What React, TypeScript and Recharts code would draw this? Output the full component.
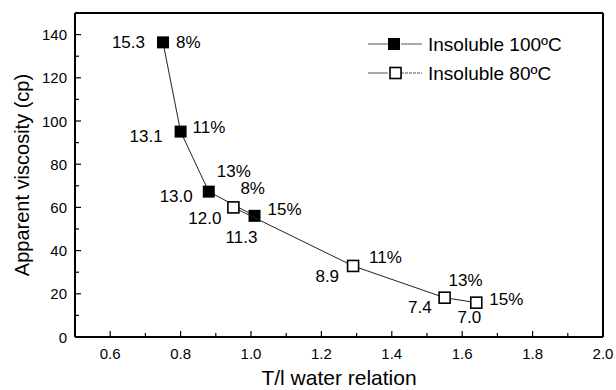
import React from "react";
import {
  ScatterChart,
  Scatter,
  XAxis,
  YAxis,
  Legend,
  ReferenceLine,
} from "recharts";

// T/I water relation vs apparent viscosity
const hotX = [0.75, 0.8, 0.88, 1.01];
const hotY = [136.4, 95.1, 67.3, 56.1];
const hotNum = ["15.3", "13.1", "13.0", "11.3"];
const hotPct = ["8%", "11%", "13%", "15%"];

const coldX = [0.95, 1.29, 1.55, 1.64];
const coldY = [60.0, 32.9, 18.2, 15.9];
const coldNum = ["12.0", "8.9", "7.4", "7.0"];
const coldPct = ["8%", "11%", "13%", "15%"];

const xMajor = [0.6, 0.8, 1.0, 1.2, 1.4, 1.6, 1.8, 2.0];
const xMinor = [0.5, 0.7, 0.9, 1.1, 1.3, 1.5, 1.7, 1.9];
const yMajor = [0, 20, 40, 60, 80, 100, 120, 140];
const yMinor = [10, 30, 50, 70, 90, 110, 130];

const seriesNames = ["Insoluble 100ºC", "Insoluble 80ºC"];

// label placement: [dx, dy, anchor] relative to the marker
type Off = [number, number, "start" | "middle" | "end"];
const hotNumOff: Off[] = [[-18, 0, "end"], [-18, 5, "end"], [-16, 5, "end"], [-13, 22, "middle"]];
const hotPctOff: Off[] = [[13, 0, "start"], [12, -4, "start"], [8, -20, "start"], [13, -6, "start"]];
const coldNumOff: Off[] = [[-12, 11, "end"], [-14, 11, "end"], [-13, 10, "end"], [-7, 15, "middle"]];
const coldPctOff: Off[] = [[7, -19, "start"], [16, -8, "start"], [4, -17, "start"], [13, -3, "start"]];

const FONT = "'Liberation Sans', Arial, sans-serif";

const hotData = hotX.map((x, i) => ({ x, y: hotY[i], i }));
const coldData = coldX.map((x, i) => ({ x, y: coldY[i], i }));

const xTicks = [...xMajor, ...xMinor].sort((a, b) => a - b);
const yTicks = [...yMajor, ...yMinor].sort((a, b) => a - b);

const isMajor = (v: number, list: number[]) => list.some((m) => Math.abs(m - v) < 1e-6);

const XTick = (props: any) => {
  const { x, y, payload } = props;
  const major = isMajor(payload.value, xMajor);
  return (
    <g>
      <line x1={x} x2={x} y1={y} y2={y - (major ? 6 : 4)} stroke="#000" strokeWidth={1.2} />
      {major && (
        <text x={x} y={y + 16} textAnchor="middle" dominantBaseline="central" fontSize={15} fontFamily={FONT} fill="#000">
          {payload.value.toFixed(1)}
        </text>
      )}
    </g>
  );
};

const YTick = (props: any) => {
  const { x, y, payload } = props;
  const major = isMajor(payload.value, yMajor);
  return (
    <g>
      <line x1={x} x2={x + (major ? 6 : 4)} y1={y} y2={y} stroke="#000" strokeWidth={1.2} />
      {major && (
        <text x={x - 8} y={y} textAnchor="end" dominantBaseline="central" fontSize={15} fontFamily={FONT} fill="#000">
          {payload.value}
        </text>
      )}
    </g>
  );
};

const makeShape = (filled: boolean, nums: string[], pcts: string[], numOff: Off[], pctOff: Off[]) =>
  (props: any) => {
    const { cx, cy, payload } = props;
    const i = payload.i;
    const s = filled ? 12 : 11;
    return (
      <g>
        <rect
          x={cx - s / 2}
          y={cy - s / 2}
          width={s}
          height={s}
          fill={filled ? "#000" : "#fff"}
          stroke="#000"
          strokeWidth={filled ? 0 : 1.6}
        />
        <text x={cx + numOff[i][0]} y={cy + numOff[i][1]} textAnchor={numOff[i][2]} dominantBaseline="central" fontSize={17} fontFamily={FONT} fill="#000">
          {nums[i]}
        </text>
        <text x={cx + pctOff[i][0]} y={cy + pctOff[i][1]} textAnchor={pctOff[i][2]} dominantBaseline="central" fontSize={17} fontFamily={FONT} fill="#000">
          {pcts[i]}
        </text>
      </g>
    );
  };

const LegendBox = () => (
  <svg width={220} height={60} style={{ overflow: "visible" }}>
    {seriesNames.map((name, k) => {
      const cy = 14 + k * 29;
      return (
        <g key={name}>
          <line x1={0} x2={20} y1={cy} y2={cy} stroke="#555" strokeWidth={1} />
          <line x1={33} x2={54} y1={cy} y2={cy} stroke="#555" strokeWidth={1} strokeDasharray={k === 1 ? "3 1" : undefined} />
          {k === 0 ? (
            <rect x={20} y={cy - 6} width={12} height={12} fill="#000" />
          ) : (
            <rect x={22} y={cy - 5.5} width={11} height={11} fill="#fff" stroke="#000" strokeWidth={1.6} />
          )}
          <text x={60} y={cy} dominantBaseline="central" fontSize={19} fontFamily={FONT} fill="#000">
            {name}
          </text>
        </g>
      );
    })}
  </svg>
);

export default function App() {
  return (
    <div style={{ position: "absolute", left: 0, top: 0, width: 616, height: 390, background: "#fff" }}>
      <ScatterChart width={616} height={390} margin={{ top: 13, right: 13, bottom: 23, left: 15 }}>
        <XAxis
          type="number"
          dataKey="x"
          domain={[0.5, 2.0]}
          ticks={xTicks}
          tick={<XTick />}
          tickLine={false}
          tickSize={0}
          tickMargin={0}
          height={30}
          axisLine={{ stroke: "#000", strokeWidth: 2 }}
          interval={0}
          allowDataOverflow
          label={{ value: "T/l water relation", position: "insideBottom", offset: -18, fontSize: 21, fontFamily: FONT, fill: "#000" }}
        />
        <YAxis
          type="number"
          dataKey="y"
          domain={[0, 150]}
          ticks={yTicks}
          tick={<YTick />}
          tickLine={false}
          tickSize={0}
          tickMargin={0}
          width={60}
          interval={0}
          allowDataOverflow
          axisLine={{ stroke: "#000", strokeWidth: 2 }}
          label={{ value: "Apparent viscosity (cp)", angle: -90, position: "center", dx: -23, fontSize: 20, fontFamily: FONT, fill: "#000" }}
        />
        <ReferenceLine y={150} stroke="#000" strokeWidth={2} />
        <ReferenceLine x={2.0} stroke="#000" strokeWidth={2} />
        <Legend
          content={<LegendBox />}
          layout="horizontal"
          verticalAlign="middle"
          align="center"
          wrapperStyle={{ top: 30, left: 368, width: 230 }}
        />
        <Scatter
          name={seriesNames[0]}
          data={hotData}
          line={{ stroke: "#222", strokeWidth: 1 }}
          shape={makeShape(true, hotNum, hotPct, hotNumOff, hotPctOff)}
          isAnimationActive={false}
        />
        <Scatter
          name={seriesNames[1]}
          data={coldData}
          line={{ stroke: "#222", strokeWidth: 1 }}
          shape={makeShape(false, coldNum, coldPct, coldNumOff, coldPctOff)}
          isAnimationActive={false}
        />
      </ScatterChart>
    </div>
  );
}
